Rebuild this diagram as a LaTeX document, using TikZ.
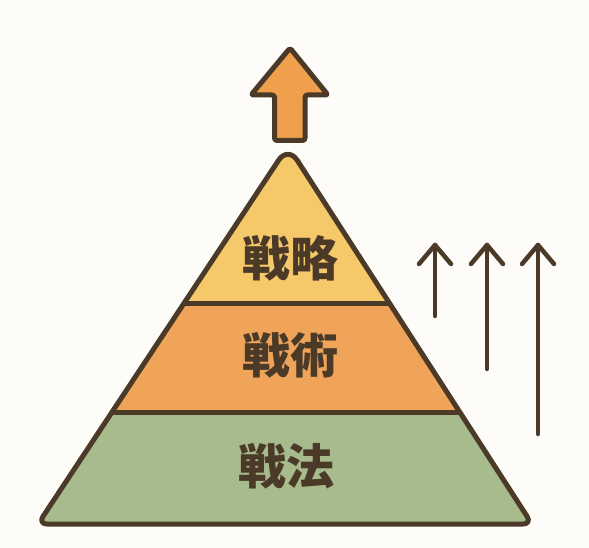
\documentclass[tikz,border=0pt]{standalone}
\usepackage{fontspec}
\newfontfamily\cjk{Noto Sans CJK JP}
\definecolor{bg}{HTML}{FDFCF8}
\definecolor{ink}{HTML}{4A3A27}
\definecolor{lyellow}{HTML}{F5C96A}
\definecolor{lorange}{HTML}{EFA45A}
\definecolor{lgreen}{HTML}{A8BB8D}
\definecolor{aorange}{HTML}{F0A04C}
\tikzset{
  outline/.style={draw=ink, line width=5pt, line join=round, line cap=round},
  label/.style={text=ink, font=\cjk\bfseries\fontsize{48}{50}\selectfont, inner sep=0pt},
  thinarrow/.style={draw=ink, line width=4.5pt, line cap=round, line join=round}
}
\begin{document}
\begin{tikzpicture}[x=1pt,y=-1pt]
\fill[bg] (0,0) rectangle (589,548);
\useasboundingbox (0,0) rectangle (589,548);
% pyramid corners
\coordinate (apex) at (288,146);
\coordinate (bl) at (38,524);
\coordinate (br) at (532,524);
\coordinate (bm) at (285,524);
\coordinate (d1l) at (184.5,303);
\coordinate (d1r) at (389,303);
\coordinate (d2l) at (112,412);
\coordinate (d2r) at (459,412);
\def\pyrpath{(bm) [rounded corners=9pt] -- (bl) [rounded corners=17pt] -- (apex) [rounded corners=9pt] -- (br) [sharp corners] -- cycle}
\begin{scope}
  \clip \pyrpath;
  \fill[lyellow] (0,0) rectangle (589,303);
  \fill[lorange] (0,303) rectangle (589,412);
  \fill[lgreen] (0,412) rectangle (589,548);
\end{scope}
\draw[outline] \pyrpath;
\draw[outline] (d1l) -- (d1r);
\draw[outline] (d2l) -- (d2r);
% labels
\node[label] (strategy) at (290,258) {戦略};
\node[label] (tactics) at (290,355) {戦術};
\node[label] (methods) at (286,466) {戦法};
% top block arrow
\draw[outline, fill=aorange, rounded corners=2.5pt]
  (290,48) -- (328,95) -- (305,95) -- (305,140.5) -- (274.5,140.5)
  -- (274.5,95) -- (251,95) -- cycle;
% right arrows
\coordinate (a1t) at (435,245);
\coordinate (a1b) at (435,316);
\coordinate (a2t) at (487,245);
\coordinate (a2b) at (487,369);
\coordinate (a3t) at (538,245);
\coordinate (a3b) at (538,434);
\foreach \t/\b in {a1t/a1b,a2t/a2b,a3t/a3b}{
  \draw[thinarrow] (\b) -- (\t);
  \draw[thinarrow] ([shift={(-16,19)}]\t) -- (\t) -- ([shift={(16,19)}]\t);
}
\end{tikzpicture}
\end{document}
